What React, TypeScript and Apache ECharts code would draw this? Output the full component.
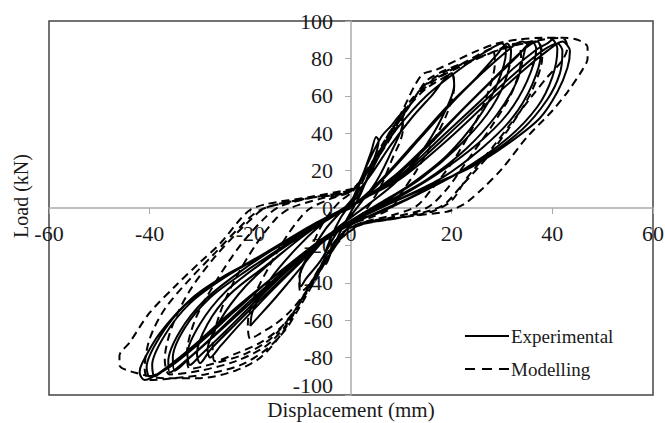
import { useEffect, useRef } from "react";
import * as echarts from "echarts";

const xMin = -60;
const xMax = 60;
const xStep = 20;
const yMin = -100;
const yMax = 100;
const yStep = 20;
const seriesNames = ["Experimental", "Modelling"];
const xTitle = "Displacement (mm)";
const yTitle = "Load (kN)";

// Experimental hysteresis path (displacement mm, load kN)
const experimental: number[][] = [
  [0, 0],
  [2, 15], [4, 30], [5, 38], [5.5, 36], [4, 22], [2, 8], [0, -2], [-2, -12], [-4, -24], [-5, -30], [-5.3, -27], [-4, -16], [-2, -5], [0, 3],
  [3, 22], [6, 38], [8, 44], [10, 50], [10.3, 46], [8, 30], [5, 14], [2, 3], [0, -4], [-3, -14], [-6, -28], [-9, -38], [-10, -42], [-10.2, -37], [-8, -24], [-5, -11], [-2, -2], [0, 4],
  [4, 18], [8, 34], [12, 48], [16, 60], [20, 72], [20.5, 66], [18, 48], [14, 30], [9, 14], [4, 3], [0, -5], [-5, -16], [-10, -32], [-15, -48], [-19, -60], [-20, -63], [-19.5, -55], [-16, -38], [-11, -22], [-6, -9], [-2, -1], [1, 5],
  [3, 14], [6, 30], [9, 42], [15, 60], [22, 75], [27, 84], [30, 88], [30.8, 84], [29, 66], [25, 47], [19, 28], [12, 13], [6, 3], [1, -5], [-4, -14], [-10, -29], [-16, -45], [-22, -62], [-26, -74], [-28, -80], [-28.5, -76], [-26, -60], [-21, -42], [-15, -27], [-8, -12], [-2, -2], [2, 5],
  [7, 18], [13, 36], [19, 54], [25, 70], [29, 82], [31, 88], [31.8, 84], [30.5, 67], [27, 50], [21, 32], [14, 16], [7, 4], [1, -6], [-5, -17], [-11, -31], [-18, -49], [-24, -65], [-28, -76], [-30, -83], [-30.6, -78], [-28.5, -62], [-24, -46], [-17, -31], [-9, -14], [-3, -3], [2, 4],
  [8, 20], [14, 38], [20, 56], [26, 72], [31, 84], [33, 88], [34, 89], [35, 87.5], [34.6, 85], [33, 68], [29, 50], [23, 32], [15, 15], [7, 3], [1, -6], [-5, -16], [-12, -32], [-19, -50], [-25, -66], [-30, -79], [-32, -84], [-32.5, -78], [-30, -62], [-25, -45], [-18, -30], [-10, -15], [-3, -3], [2, 4],
  [9, 18], [16, 36], [23, 55], [29, 71], [34, 84], [37, 89], [37.8, 84], [36, 66], [32, 48], [26, 32], [18, 16], [9, 4], [2, -5], [-5, -16], [-13, -33], [-21, -52], [-28, -70], [-33, -82], [-36, -88], [-36.3, -82], [-34, -66], [-29, -49], [-22, -34], [-13, -18], [-4, -4], [2, 4],
  [9, 17], [16, 35], [22, 52], [28, 68], [33, 81], [35, 87], [36, 89], [36.8, 85], [35, 68], [31, 50], [25, 34], [17, 18], [9, 5], [2, -5], [-5, -17], [-13, -34], [-20, -51], [-27, -68], [-32, -80], [-35, -87], [-35.4, -80], [-33, -64], [-28, -48], [-21, -34], [-12, -18], [-4, -4], [2, 4],
  [10, 18], [18, 38], [26, 58], [32, 74], [37, 85], [39, 88], [40, 90], [41, 85], [40, 70], [37, 54], [31, 37], [22, 20], [12, 6], [3, -5], [-5, -16], [-14, -34], [-23, -54], [-30, -71], [-36, -84], [-39, -90], [-39.5, -84], [-37, -68], [-32, -51], [-25, -37], [-16, -23], [-6, -7], [1, 3],
  [10, 17], [18, 36], [26, 56], [33, 73], [38, 84], [41, 88], [42, 84], [41.5, 72], [39, 58], [34, 42], [26, 26], [16, 11], [6, -2], [0, -8], [-6, -18], [-15, -36], [-23, -55], [-30, -72], [-36, -85], [-40, -90], [-40.6, -85], [-38, -69], [-33, -52], [-26, -38], [-17, -24], [-7, -8], [1, 3],
  [10, 16], [19, 36], [27, 56], [34, 73], [39, 84], [42, 89], [43.5, 84], [43, 75], [41, 62], [37.5, 48], [31, 34], [24, 22], [17.5, 14], [10, 5], [4, -2], [0, -7], [-6, -17], [-15, -36], [-24, -56], [-31, -73], [-37, -86], [-41, -92], [-42, -88], [-41.5, -83], [-38, -67], [-31.5, -48], [-25, -36], [-18, -26], [-10, -14], [-5, -6], [0, 0],
];

// Modelling hysteresis path (displacement mm, load kN)
const modelling: number[][] = [
  [0, 0],
  [3, 18], [6, 32], [8, 42], [10, 48], [10.3, 42], [8, 25], [6, 12], [4, 3], [2, -4], [0, -8], [-3, -20], [-6, -32], [-8, -40], [-10, -45], [-10.3, -38], [-8, -22], [-6, -10], [-4, -2], [-2, 4], [0, 8],
  [3, 18], [6, 32], [9, 44], [12, 56], [15, 64], [18, 69], [20, 72], [20.5, 65], [19, 50], [16, 34], [13, 20], [10, 8], [8, 0], [4, -5], [0, -9], [-3, -20], [-6, -33], [-9, -45], [-12, -55], [-15, -62], [-18, -67], [-20, -70], [-20.5, -62], [-19, -46], [-16, -30], [-13, -16], [-10, -5], [-8, 0], [-4, 5], [0, 9],
  [3, 19], [6, 33], [9, 46], [12, 58], [15, 66], [20, 74], [24, 80], [28, 85], [28.6, 78], [27, 60], [24, 42], [20, 24], [16, 10], [13, 1], [8, -4], [2, -8], [-2, -14], [-5, -28], [-8, -42], [-11, -54], [-14, -64], [-18, -72], [-23, -78], [-27, -82], [-27.5, -74], [-26, -56], [-23, -38], [-19, -20], [-15, -6], [-12, 0], [-6, 5], [0, 9],
  [4, 22], [7, 36], [10, 49], [13, 60], [17, 69], [22, 76], [27, 82], [33, 88], [33.8, 80], [32, 62], [28, 44], [23, 25], [19, 10], [15, 0], [8, -5], [1, -9], [-3, -17], [-6, -31], [-9, -45], [-12, -58], [-16, -70], [-21, -78], [-27, -83], [-32, -86], [-32.6, -78], [-31, -60], [-27, -40], [-22, -20], [-17, -5], [-14, 1], [-7, 6], [0, 10],
  [4, 22], [8, 38], [11, 52], [14, 64], [18, 72], [24, 79], [30, 85], [37, 89], [38, 81], [36, 63], [32, 45], [27, 27], [22, 12], [18, 1], [10, -5], [2, -9], [-3, -19], [-7, -36], [-10, -50], [-13, -63], [-17, -74], [-23, -82], [-30, -87], [-36, -89], [-37, -81], [-35.5, -63], [-32, -44], [-27, -26], [-21, -9], [-17, 0], [-9, 5], [0, 10],
  [4, 22], [8, 40], [12, 56], [15, 68], [19, 74], [25, 80], [32, 87], [38, 90], [42, 91], [43, 86], [42, 79], [39, 70], [36, 60], [32, 46], [28, 32], [23, 16], [20, 4], [16, -2], [8, -6], [1, -10], [-3, -20], [-7, -38], [-10, -52], [-13, -65], [-17, -76], [-22, -84], [-29, -89], [-35, -91], [-40, -92], [-41, -86], [-40, -70], [-37, -54], [-32, -38], [-27, -24], [-22, -10], [-18, -1], [-9, 5], [0, 9],
  [3, 20], [7, 36], [10, 51], [14, 71], [17, 74], [21, 79], [25, 84], [29, 88], [33, 90], [38, 91], [42, 91], [45, 90], [47, 86], [47, 80], [46, 74], [43, 62], [40, 52], [35, 38], [30, 21], [26, 10], [23, 3], [21, 0], [19, -2], [10, -5], [0, -10], [-4, -22], [-8, -40], [-11, -55], [-14, -68], [-18, -80], [-23, -87], [-30, -91], [-37, -91], [-43, -88], [-46, -84], [-46, -79], [-44, -72], [-40, -56], [-35, -42], [-30, -29], [-26, -19], [-22, -6], [-20, -1], [-17, 2], [-8, 6], [0, 10], [2, 11],
];

const FONT = "'Liberation Serif', 'Times New Roman', serif";
const TEXT = "#1a1a1a";

const GRID_LEFT = 49;
const GRID_TOP = 21;
const GRID_W = 604;
const GRID_H = 374;

export default function App() {
  const ref = useRef<HTMLDivElement>(null);
  useEffect(() => {
    if (!ref.current) return;
    const chart = echarts.init(ref.current, null, { renderer: "svg" });
    chart.setOption({
      animation: false,
      backgroundColor: "#fff",
      grid: {
        left: GRID_LEFT,
        top: GRID_TOP,
        width: GRID_W,
        height: GRID_H,
        containLabel: false,
        outerBoundsMode: "none",
        show: true,
        borderColor: "#444",
        borderWidth: 1.5,
        backgroundColor: "transparent",
      },
      xAxis: {
        type: "value",
        min: xMin,
        max: xMax,
        interval: xStep,
        position: "bottom",
        offset: -GRID_H / 2,
        axisLine: { show: true, onZero: false, lineStyle: { color: "#aaa", width: 1.5 } },
        axisTick: { show: true, length: 6, lineStyle: { color: "#aaa", width: 1 } },
        splitLine: { show: false },
        axisLabel: {
          margin: 17,
          fontSize: 22,
          lineHeight: 16,
          fontFamily: FONT,
          color: TEXT,
          showMinLabel: true,
          showMaxLabel: true,
          hideOverlap: false,
        },
      },
      yAxis: {
        type: "value",
        min: yMin,
        max: yMax,
        interval: yStep,
        position: "left",
        offset: -GRID_W / 2,
        axisLine: { show: true, onZero: false, lineStyle: { color: "#aaa", width: 1.5 } },
        axisTick: { show: true, length: 6, lineStyle: { color: "#aaa", width: 1 } },
        splitLine: { show: false },
        axisLabel: {
          margin: 18,
          fontSize: 22,
          lineHeight: 16,
          fontFamily: FONT,
          color: TEXT,
          showMinLabel: true,
          showMaxLabel: true,
          hideOverlap: false,
          formatter: (v: number) => (v === yMin ? `{lo|${v}}` : `${v}`),
          rich: {
            lo: {
              fontSize: 22,
              lineHeight: 16,
              fontFamily: FONT,
              color: TEXT,
              padding: [0, 0, 20, 0],
            },
          },
        },
      },
      series: [
        {
          name: seriesNames[0],
          type: "line",
          data: experimental,
          symbol: "none",
          showSymbol: false,
          smooth: 0.3,
          z: 3,
          lineStyle: { color: "#000", width: 2, type: "solid" },
        },
        {
          name: seriesNames[1],
          type: "line",
          data: modelling,
          symbol: "none",
          showSymbol: false,
          smooth: 0.3,
          z: 4,
          lineStyle: { color: "#000", width: 2, type: [8, 5] },
        },
      ],
      graphic: [
        {
          type: "text",
          x: 351,
          y: 410,
          style: {
            text: xTitle,
            font: `21px ${FONT}`,
            lineHeight: 16,
            fill: TEXT,
            textAlign: "center",
            textVerticalAlign: "middle",
          },
        },
        {
          type: "text",
          x: 21,
          y: 196,
          rotation: Math.PI / 2,
          style: {
            text: yTitle,
            font: `20px ${FONT}`,
            fill: TEXT,
            textAlign: "center",
            textVerticalAlign: "middle",
          },
        },
        {
          type: "line",
          shape: { x1: 465, y1: 336, x2: 509, y2: 336 },
          style: { stroke: "#000", lineWidth: 2 },
        },
        {
          type: "text",
          x: 511,
          y: 336,
          style: {
            text: seriesNames[0],
            font: `19px ${FONT}`,
            fill: TEXT,
            textAlign: "left",
            textVerticalAlign: "middle",
          },
        },
        {
          type: "line",
          shape: { x1: 465, y1: 369, x2: 509, y2: 369 },
          style: { stroke: "#000", lineWidth: 2, lineDash: [10, 7] },
        },
        {
          type: "text",
          x: 511,
          y: 369,
          style: {
            text: seriesNames[1],
            font: `19px ${FONT}`,
            fill: TEXT,
            textAlign: "left",
            textVerticalAlign: "middle",
          },
        },
      ],
    });
    return () => chart.dispose();
  }, []);
  return (
    <div
      ref={ref}
      style={{ position: "fixed", left: 0, top: 0, width: 665, height: 423, background: "#fff" }}
    />
  );
}
